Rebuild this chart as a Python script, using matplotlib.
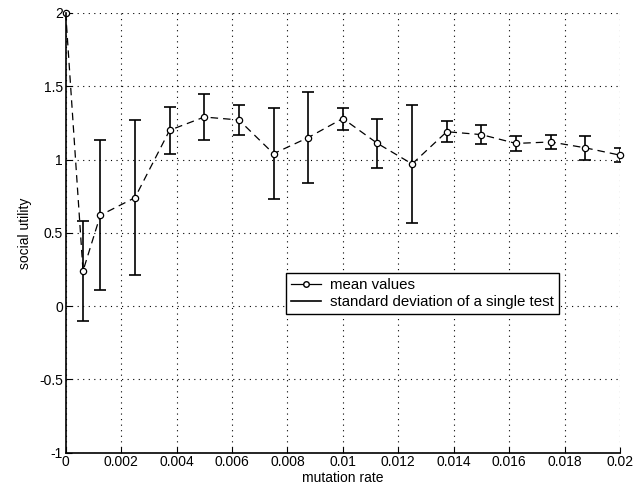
import matplotlib
matplotlib.use('Agg')
import matplotlib.pyplot as plt
from matplotlib.lines import Line2D

# mutation rate samples
rate = [0, 0.000625, 0.00125, 0.0025, 0.00375, 0.005, 0.00625, 0.0075, 0.00875,
        0.01, 0.01125, 0.0125, 0.01375, 0.015, 0.01625, 0.0175, 0.01875, 0.02]
# mean social utility
mean_vals = [2.0, 0.24, 0.62, 0.74, 1.20, 1.29, 1.27, 1.04, 1.15,
             1.28, 1.11, 0.97, 1.19, 1.17, 1.11, 1.12, 1.08, 1.03]
# std of a single test
std_vals = [0.0, 0.34, 0.51, 0.53, 0.16, 0.155, 0.105, 0.31, 0.31,
            0.075, 0.17, 0.40, 0.07, 0.067, 0.05, 0.05, 0.08, 0.05]

plt.rcParams['font.family'] = ['Liberation Sans', 'DejaVu Sans']
plt.rcParams['font.size'] = 10

fig = plt.figure(figsize=(6.36, 4.93), dpi=100)
ax = fig.add_axes([0.1033, 0.0817, 0.8715, 0.892])

ax.errorbar(rate, mean_vals, yerr=std_vals, fmt='none', ecolor='black',
            elinewidth=1.2, capsize=4, capthick=1.2)
ax.plot(rate, mean_vals, color='black', linestyle=(0, (6, 4)), linewidth=0.9,
        marker='o', markersize=4.5, markerfacecolor='white', markeredgecolor='black',
        markeredgewidth=0.9, clip_on=False)

ax.set_xlim(0, 0.02)
ax.set_ylim(-1, 2)
ax.set_xticks([0, 0.002, 0.004, 0.006, 0.008, 0.01, 0.012, 0.014, 0.016, 0.018, 0.02])
ax.set_xticklabels(['0', '0.002', '0.004', '0.006', '0.008', '0.01', '0.012',
                    '0.014', '0.016', '0.018', '0.02'])
ax.set_yticks([-1, -0.5, 0, 0.5, 1, 1.5, 2])
ax.set_yticklabels(['-1', '-0.5', '0', '0.5', '1', '1.5', '2'])
ax.tick_params(direction='in', length=4, color='black', labelsize=10, pad=2)
ax.grid(True, color='black', linestyle=(0, (1, 4)), linewidth=0.8)
ax.spines['top'].set_visible(False)
ax.spines['right'].set_visible(False)
ax.spines['left'].set_linewidth(1.2)
ax.spines['bottom'].set_linewidth(1.2)

ax.set_xlabel('mutation rate', labelpad=1)
ax.set_ylabel('social utility', labelpad=5)

handles = [
    Line2D([], [], color='black', linewidth=0.9, marker='o', markersize=4,
           markerfacecolor='white'),
    Line2D([], [], color='black', linewidth=1.2),
]
leg = ax.legend(handles, ['mean values', 'standard deviation of a single test'],
                loc='upper left', bbox_to_anchor=(0.397, 0.409), frameon=True,
                fancybox=False, edgecolor='black', framealpha=1, fontsize=10.8,
                handlelength=2.0, borderpad=0.35, labelspacing=0.2, handletextpad=0.6,
                borderaxespad=0)
leg.get_frame().set_linewidth(1.0)

fig.savefig('out.png', dpi=100)
